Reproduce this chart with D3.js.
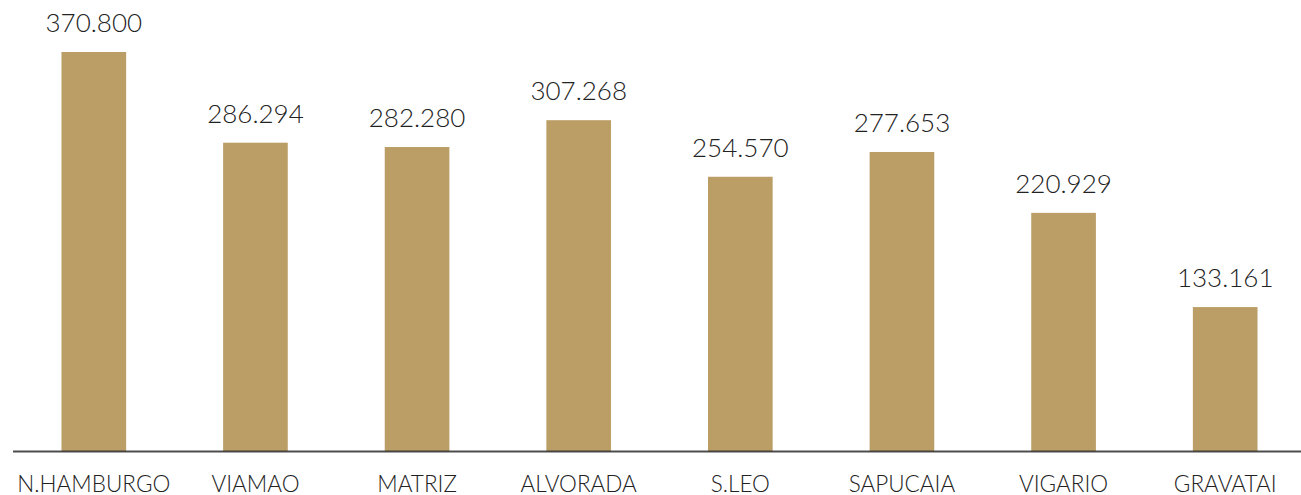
<!DOCTYPE html>
<html>
<head>
<meta charset="utf-8">
<script src="https://cdn.jsdelivr.net/npm/d3@7"></script>
<style>
  html, body { margin: 0; padding: 0; background: #ffffff; }
  svg { display: block; }
  text { font-family: "Lato", "Open Sans", sans-serif; font-weight: 300; fill: #222; }
</style>
</head>
<body>
<svg id="chart" width="1301" height="495"></svg>
<script>
const categories = ["N.HAMBURGO", "VIAMAO", "MATRIZ", "ALVORADA", "S.LEO", "SAPUCAIA", "VIGARIO", "GRAVATAI"];
const values = [370.800, 286.294, 282.280, 307.268, 254.570, 277.653, 220.929, 133.161];
const valueLabels = ["370.800", "286.294", "282.280", "307.268", "254.570", "277.653", "220.929", "133.161"];

const W = 1301, H = 495;
const svg = d3.select("#chart");

const x = d3.scaleBand()
  .domain(categories)
  .range([13, 1306])
  .paddingInner(0.6)
  .paddingOuter(0.3);

const y = d3.scaleLinear()
  .domain([0, 370.8])
  .range([450, 52]);

const data = categories.map((c, i) => ({ c, v: values[i], label: valueLabels[i] }));

svg.selectAll("rect.bar")
  .data(data)
  .join("rect")
  .attr("class", "bar")
  .attr("x", d => x(d.c))
  .attr("width", x.bandwidth())
  .attr("y", d => y(d.v))
  .attr("height", d => y(0) + 1.5 - y(d.v))
  .attr("fill", "#BA9E66");

// baseline axis
const xAxis = d3.axisBottom(x).tickSize(0).tickPadding(0);
const gx = svg.append("g")
  .attr("transform", `translate(0, ${y(0) + 1.5})`)
  .call(xAxis);
gx.select(".domain").remove();
gx.append("line")
  .attr("x1", 13).attr("x2", W)
  .attr("y1", 0).attr("y2", 0)
  .attr("stroke", "#2e2e2e")
  .attr("stroke-opacity", 0.85)
  .attr("stroke-width", 2);
gx.selectAll(".tick text")
  .attr("y", 40)
  .attr("dy", null)
  .style("font-family", "Lato, 'Open Sans', sans-serif")
  .style("font-weight", 300)
  .style("font-size", "22.5px")
  .attr("fill", "#222");

// value labels
svg.selectAll("text.val")
  .data(data)
  .join("text")
  .attr("class", "val")
  .attr("x", d => x(d.c) + x.bandwidth() / 2)
  .attr("y", d => y(d.v) - 20)
  .attr("text-anchor", "middle")
  .style("font-size", "26px")
  .text(d => d.label);
</script>
</body>
</html>
